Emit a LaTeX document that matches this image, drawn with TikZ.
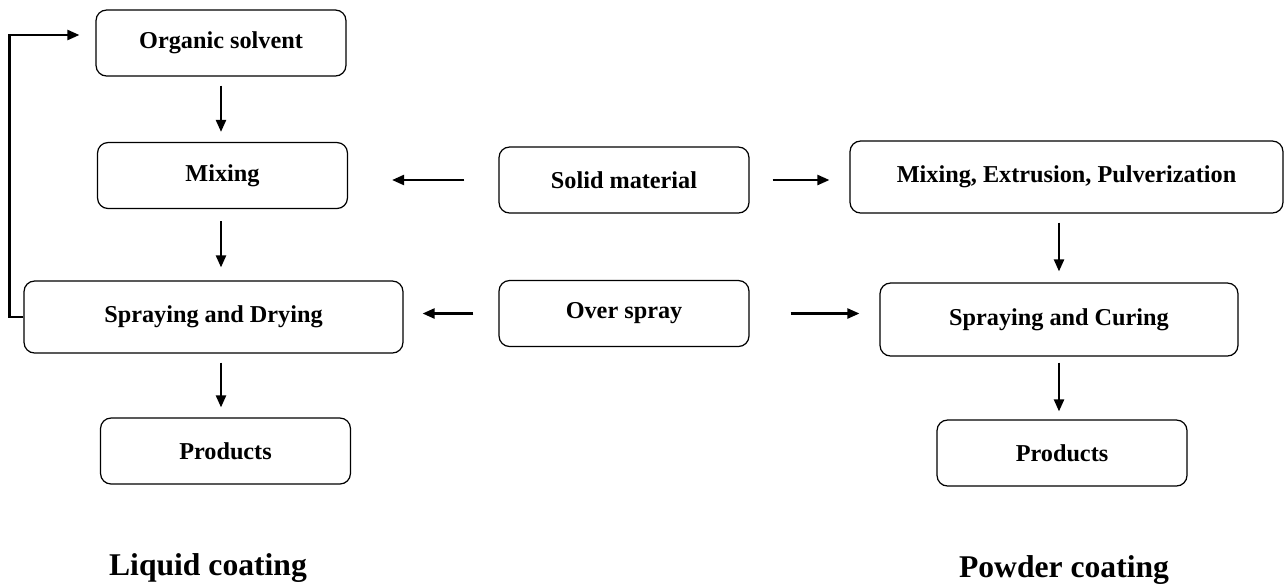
\documentclass[tikz,border=0pt]{standalone}
\usepackage{fontspec}
\setmainfont{Liberation Serif}
\usetikzlibrary{arrows.meta, positioning}
\tikzset{
  every picture/.style={font=\bfseries, line width=0.7pt},
  box/.style={draw, rounded corners=6pt, align=center, minimum width=5cm, minimum height=1.32cm, font=\fontsize{13.8}{16}\selectfont\bfseries},
  arrow/.style={-{Triangle[length=2.4mm, width=2mm]}, line width=1.3pt},
  caption/.style={font=\fontsize{18}{20}\selectfont\bfseries},
}
\begin{document}
\begin{tikzpicture}[x=0.02cm, y=-0.02cm]
  \useasboundingbox (0,0) rectangle (1284,586);
  % liquid coating
  \node[box] (solv) at (221,43) {Organic solvent};
  \node[box] (mixl) at (222.5,175.5) {Mixing};
  \node[box, minimum width=7.58cm, minimum height=1.44cm] (sprd) at (213.5,317) {Spraying and Drying};
  \node[box] (prodl) at (225.5,451) {Products};
  % middle column
  \node[box] (solid) at (624,180) {Solid material};
  \node[box] (over) at (624,313.5) {Over spray};
  % powder coating
  \node[box, minimum width=8.66cm, minimum height=1.44cm] (mep) at (1066.5,177) {Mixing, Extrusion, Pulverization};
  \node[box, minimum width=7.16cm, minimum height=1.46cm] (sprc) at (1059,319.5) {Spraying and Curing};
  \node[box] (prodp) at (1062,453) {Products};
  \draw[arrow, shorten <=0.18cm, shorten >=0.2cm] (solv.south) -- (mixl.north -| solv.south);
  \draw[arrow, shorten <=0.24cm, shorten >=0.26cm] (mixl.south -| solv.south) -- (sprd.north -| solv.south);
  \draw[arrow, shorten <=0.18cm, shorten >=0.2cm] (sprd.south -| solv.south) -- (prodl.north -| solv.south);
  \draw[arrow] (sprd.west) -- ++(-14,0) |- ([yshift=0.16cm, xshift=-0.32cm]solv.west);
  \draw[arrow, shorten <=0.68cm, shorten >=0.88cm] (solid.west) -- (solid.west -| mixl.east);
  \draw[arrow, shorten <=0.46cm, shorten >=0.4cm] (solid.east) -- (solid.east -| mep.west);
  \draw[arrow, shorten <=0.5cm, shorten >=0.38cm] (over.west) -- (over.west -| sprd.east);
  \draw[arrow, shorten <=0.82cm, shorten >=0.4cm] (over.east) -- (over.east -| sprc.west);
  \draw[arrow, shorten <=0.18cm, shorten >=0.22cm] (mep.south -| sprc.north) -- (sprc.north);
  \draw[arrow, shorten <=0.12cm, shorten >=0.16cm] (sprc.south) -- (prodp.north -| sprc.south);
  \node[caption] (liq) at (208,568) {Liquid coating};
  \node[caption] (pow) at (1064,570) {Powder coating};
\end{tikzpicture}
\end{document}
